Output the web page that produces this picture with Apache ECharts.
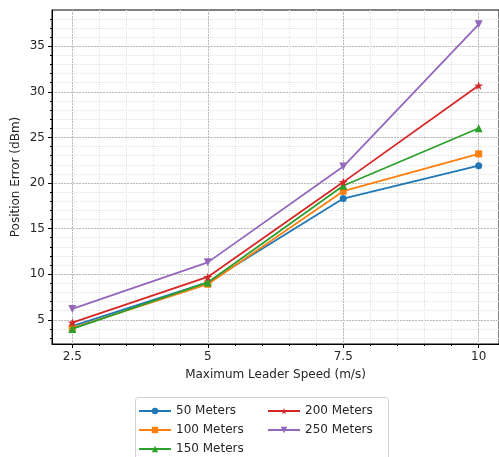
<!DOCTYPE html>
<html>
<head>
<meta charset="utf-8">
<script src="https://cdn.jsdelivr.net/npm/echarts@6/dist/echarts.min.js"></script>
<style>
  html, body { margin: 0; padding: 0; background: #fff; }
  #chart { width: 499px; height: 457px; }
</style>
</head>
<body>
<div id="chart"></div>
<script>
// x values: maximum leader speed (m/s)
const speeds = [2.5, 5, 7.5, 10];
// position error per communication range
const m50 = [4.3, 9.1, 18.3, 21.9];
const m100 = [4.1, 8.9, 19.1, 23.2];
const m150 = [4.0, 9.1, 19.7, 26.0];
const m200 = [4.7, 9.7, 20.1, 30.7];
const m250 = [6.2, 11.3, 21.8, 37.4];
const names = ['50 Meters', '100 Meters', '150 Meters', '200 Meters', '250 Meters'];

// tick labels
const xMajor = [2.5, 5, 7.5, 10];
const xMinor = [2.5, 3, 3.5, 4, 4.5, 5, 5.5, 6, 6.5, 7, 7.5, 8, 8.5, 9, 9.5, 10];
const yMajor = [5, 10, 15, 20, 25, 30, 35];
const yMinor = [];
for (let v = 3; v <= 38; v++) yMinor.push(v);

const colors = ['#1f77b4', '#ff7f0e', '#2ca02c', '#d62728', '#9467bd'];
const STAR = 'path://M50,0 L61,35 L98,35 L68,57 L79,91 L50,70 L21,91 L32,57 L2,35 L39,35 Z';
const symbols = ['circle', 'rect', 'triangle', STAR, 'path://M0,0 L100,0 L50,87 Z'];
const sizes = [7, 7, 8, 9, 8];

const chart = echarts.init(document.getElementById('chart'), null, { renderer: 'canvas' });

const font = { fontFamily: 'DejaVu Sans', fontSize: 12, color: '#262626' };
const xr = { min: 2.125, max: 10.375 };
const yr = { min: 2.35, max: 38.97 };

function pairs(ys) {
  return speeds.map((x, i) => [x, ys[i]]);
}

const seriesData = [m50, m100, m150, m200, m250];

const option = {
  animation: false,
  grid: {
    left: 52, right: -1, top: 10, bottom: 113,
    show: true, borderColor: '#000', borderWidth: 1, backgroundColor: 'transparent'
  },
  xAxis: [{
    type: 'value', ...xr,
    name: 'Maximum Leader Speed (m/s)', nameLocation: 'middle', nameGap: 25,
    nameTextStyle: font,
    axisLine: { show: true, lineStyle: { color: '#000', width: 1 } },
    axisTick: { customValues: xMinor, length: 2, lineStyle: { color: '#000' } },
    axisLabel: { show: false },
    splitLine: { show: true, lineStyle: { color: '#e2e2e2', type: [1, 1], width: 1 } }
  }, {
    type: 'value', ...xr, position: 'bottom',
    axisLine: { show: false },
    axisTick: { customValues: xMajor, length: 4, lineStyle: { color: '#000' } },
    axisLabel: { customValues: xMajor, margin: 7, ...font },
    splitLine: { show: true, lineStyle: { color: '#bdbdbd', type: [2, 1], width: 1 } }
  }],
  yAxis: [{
    type: 'value', ...yr,
    name: 'Position Error (dBm)', nameLocation: 'middle', nameGap: 30,
    nameTextStyle: font,
    axisLine: { show: true, lineStyle: { color: '#000', width: 1 } },
    axisTick: { customValues: yMinor, length: 2, lineStyle: { color: '#000' } },
    axisLabel: { show: false },
    splitLine: { show: true, lineStyle: { color: '#e2e2e2', type: [1, 1], width: 1 } }
  }, {
    type: 'value', ...yr, position: 'left',
    axisLine: { show: false },
    axisTick: { customValues: yMajor, length: 4, lineStyle: { color: '#000' } },
    axisLabel: { customValues: yMajor, margin: 7, ...font },
    splitLine: { show: true, lineStyle: { color: '#bdbdbd', type: [2, 1], width: 1 } }
  }],
  legend: [{
    data: names.slice(0, 3), orient: 'vertical', left: 138, top: 405, height: 60,
    itemWidth: 32, itemHeight: 8, itemGap: 7, padding: 0, textStyle: font
  }, {
    data: names.slice(3), orient: 'vertical', left: 267, top: 405, height: 60,
    itemWidth: 32, itemHeight: 8, itemGap: 7, padding: 0, textStyle: font
  }],
  graphic: [{
    type: 'rect', left: 135, top: 397,
    shape: { width: 253, height: 70, r: 3 },
    style: { fill: '#fff', stroke: '#d0d0d0', lineWidth: 1 },
    z: -1
  }],
  series: seriesData.map((ys, i) => ({
    name: names[i],
    type: 'line',
    data: pairs(ys),
    xAxisIndex: 0, yAxisIndex: 0,
    color: colors[i],
    symbol: symbols[i],
    symbolSize: sizes[i],
    showAllSymbol: true,
    lineStyle: { width: 1.8, color: colors[i] },
    itemStyle: { color: colors[i] },
    z: 3 + i
  }))
};

chart.setOption(option);
</script>
</body>
</html>
